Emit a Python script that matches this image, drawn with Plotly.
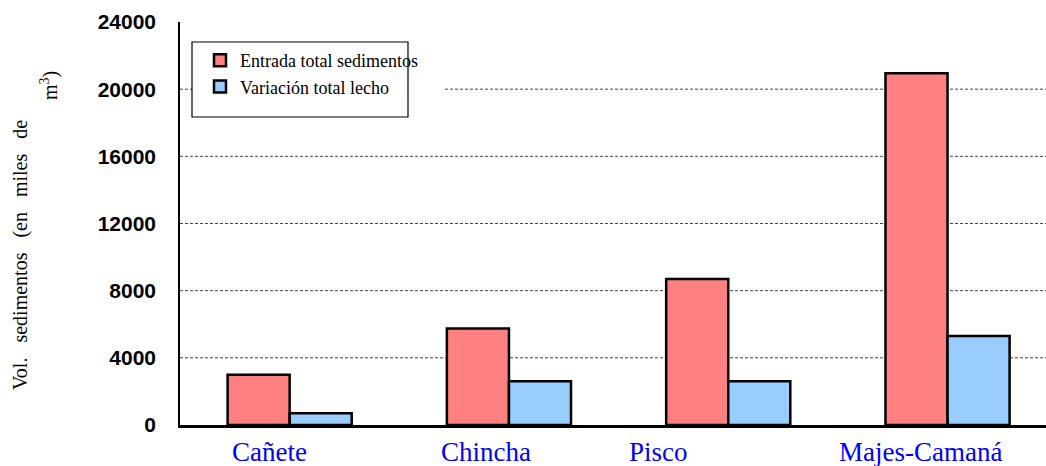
import plotly.graph_objects as go

categories = ["Cañete", "Chincha", "Pisco", "Majes-Camaná"]
entrada = [3000, 5750, 8700, 20950]
variacion = [700, 2600, 2600, 5300]
y_ticks = [0, 4000, 8000, 12000, 16000, 20000, 24000]
label_shift = [-20, -23, -70, -27]

RED = "#FF8080"
BLUE = "#99CCFF"

PL, PR, PT, PB = 180, 1046, 22, 425
pw, ph = PR - PL, PB - PT

def px(x):
    return (x - PL) / pw

def py(y):
    return (PB - y) / ph

fig = go.Figure()
fig.add_trace(go.Bar(x=list(range(len(categories))), y=entrada, name="Entrada total sedimentos",
                     marker=dict(color=RED, line=dict(color="black", width=2.5))))
fig.add_trace(go.Bar(x=list(range(len(categories))), y=variacion, name="Variación total lecho",
                     marker=dict(color=BLUE, line=dict(color="black", width=2.5))))

shapes = []
for v in y_ticks[1:-1]:
    shapes.append(dict(type="line", xref="paper", yref="y", x0=0, x1=1, y0=v, y1=v,
                       line=dict(color="#444", width=1, dash="3px,2px"), layer="below"))
# legend box background and border
shapes.append(dict(type="rect", xref="paper", yref="paper", x0=px(192), x1=px(445), y0=py(117), y1=py(42),
                   fillcolor="white", line=dict(width=0), layer="below"))
shapes.append(dict(type="rect", xref="paper", yref="paper", x0=px(192), x1=px(408), y0=py(117), y1=py(42),
                   fillcolor="rgba(0,0,0,0)", line=dict(color="black", width=1.2), layer="above"))

annotations = []
for i, (c, s) in enumerate(zip(categories, label_shift)):
    annotations.append(dict(x=i, y=0, xref="x", yref="paper", text=c, showarrow=False,
                            xshift=s, yshift=-27, yanchor="middle",
                            font=dict(family="Liberation Serif", size=27, color="#0000FF")))
nb = "\u00a0\u00a0 "
annotations.append(dict(x=0, y=py(255), xref="paper", yref="paper",
                        text=f"Vol.{nb}sedimentos{nb}(en{nb}miles{nb}de",
                        showarrow=False, textangle=-90, xshift=20 - PL, xanchor="center", yanchor="middle",
                        font=dict(family="Liberation Serif", size=20, color="black")))
annotations.append(dict(x=0, y=py(86), xref="paper", yref="paper", text="m<sup>3</sup>)",
                        showarrow=False, textangle=-90, xshift=49 - PL, xanchor="center", yanchor="middle",
                        font=dict(family="Liberation Serif", size=20, color="black")))

fig.update_layout(
    width=1046, height=466,
    margin=dict(l=PL, r=1046 - PR, t=PT, b=466 - PB),
    paper_bgcolor="white", plot_bgcolor="white",
    barmode="group", bargap=0.434, bargroupgap=0,
    showlegend=True,
    legend=dict(x=px(200), y=py(42), xanchor="left", yanchor="top",
                bgcolor="rgba(0,0,0,0)", borderwidth=0,
                font=dict(family="Liberation Serif", size=18, color="black"),
                tracegroupgap=0),
    shapes=shapes, annotations=annotations,
)
fig.update_xaxes(range=[-0.5, -0.5 + pw / 219.3], tickvals=list(range(len(categories))),
                 showticklabels=False, tickson="boundaries", ticks="inside", ticklen=7,
                 tickcolor="black", tickwidth=1.5,
                 showline=True, linecolor="black", linewidth=2.5, showgrid=False, zeroline=False)
fig.update_yaxes(range=[0, 24000], tickvals=y_ticks, ticktext=[str(v) for v in y_ticks],
                 ticks="", showgrid=False, zeroline=False, showline=True, linecolor="black", linewidth=1.5,
                 ticklabelstandoff=18,
                 tickfont=dict(family="Liberation Sans", size=21, color="black", weight="bold"))

fig.write_html("out.html")
